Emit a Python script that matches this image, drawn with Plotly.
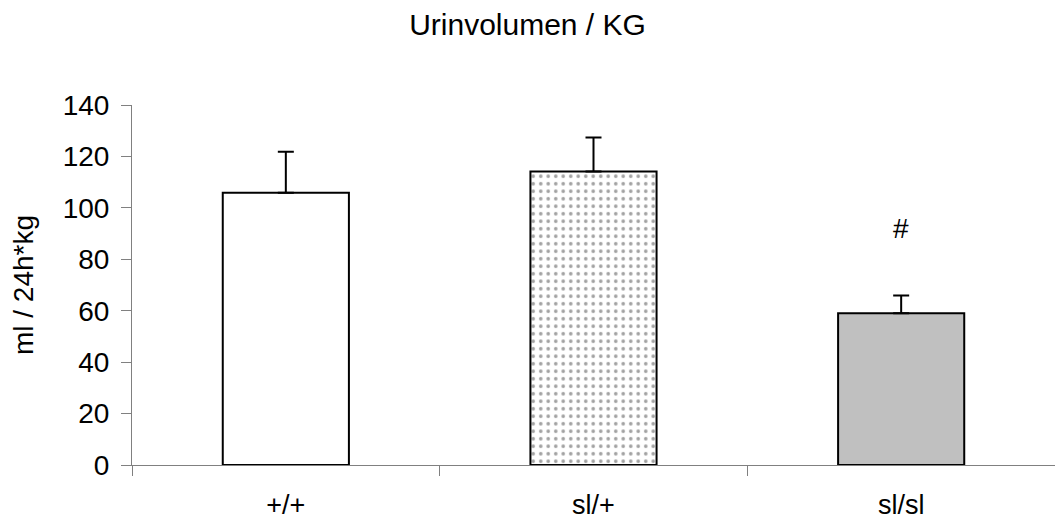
import plotly.graph_objects as go

categories = ["+/+", "sl/+", "sl/sl"]
values = [105.9, 114.1, 59.0]
errors_up = [15.9, 13.3, 6.9]
errors_down = [0, 0, 0]
fills = ["white", "white", "#C0C0C0"]
patterns = ["", ".", ""]
sig_marks = ["", "", "#"]
sig_y = [None, None, 92]

FONT = "Liberation Sans, Arial, sans-serif"

fig = go.Figure()
fig.add_trace(go.Bar(
    x=categories, y=values, width=0.41,
    marker=dict(
        color=fills,
        line=dict(color="black", width=2),
        pattern=dict(shape=patterns, size=7.5, solidity=0.18,
                     fgcolor="#101010", bgcolor="white", fillmode="overlay"),
    ),
    error_y=dict(type="data", symmetric=False, array=errors_up, arrayminus=errors_down,
                 thickness=2, width=8, color="black"),
    showlegend=False,
))

for c, s, yy in zip(categories, sig_marks, sig_y):
    if s:
        fig.add_annotation(x=c, y=yy, text=s, showarrow=False,
                           font=dict(family=FONT, size=28, color="black"))

fig.update_layout(
    width=1055, height=525,
    margin=dict(l=132, r=0, t=105, b=60),
    paper_bgcolor="white", plot_bgcolor="white",
    font=dict(family=FONT, color="black"),
    title=dict(text="Urinvolumen / KG", x=0.5, xanchor="center", y=1 - 24/525,
               yref="container", yanchor="middle",
               font=dict(family=FONT, size=30, color="black")),
)
fig.update_xaxes(
    range=[-0.5, 2.5], showline=True, linecolor="#808080", linewidth=1,
    ticks="outside", tickson="boundaries", ticklen=10, tickcolor="#808080",
    tickfont=dict(family=FONT, size=27, color="black"), ticklabelstandoff=16,
    showgrid=False, zeroline=False, automargin=False,
)
fig.update_yaxes(
    range=[0, 140], tickvals=[0, 20, 40, 60, 80, 100, 120, 140],
    showline=True, linecolor="#808080", linewidth=1,
    ticks="outside", ticklen=10, tickcolor="#808080",
    tickfont=dict(family=FONT, size=28, color="black"), ticklabelstandoff=6,
    title=dict(text="ml / 24h*kg", font=dict(family=FONT, size=28, color="black"), standoff=20),
    showgrid=False, zeroline=False, automargin=False,
)

fig.write_html("out.html")
